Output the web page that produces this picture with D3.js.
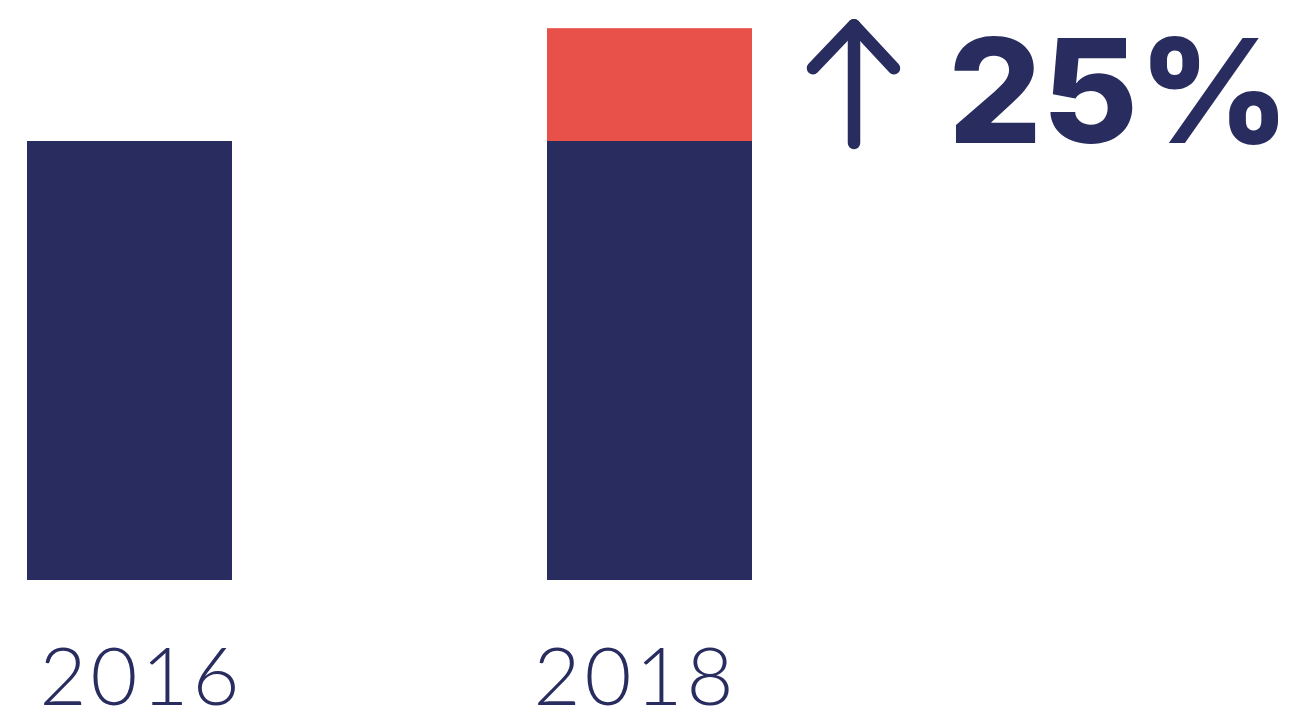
<!DOCTYPE html>
<html>
<head>
<meta charset="utf-8">
<script src="https://cdn.jsdelivr.net/npm/d3@7"></script>
<style>
  html, body { margin: 0; padding: 0; background: #fff; }
  svg { display: block; }
</style>
</head>
<body>
<div id="chart"></div>
<script>
// chart data
var years = ["2016", "2018"];
var baseValues = [100, 100];
var increaseValues = [0, 25.7];
var changeLabel = "25%";

var w = 1302, h = 713;
var navy = "#282c5f", red = "#e8504a";

var svg = d3.select("#chart")
    .append("svg")
    .attr("width", w)
    .attr("height", h);

var xScale = d3.scaleBand()
    .domain(years)
    .range([27, 752])
    .paddingInner(0.6058)
    .paddingOuter(0);

var yScale = d3.scaleLinear().domain([0, 100]).range([580, 141]);

var rows = years.map(function(y, i) {
  return {year: y, base: baseValues[i], inc: increaseValues[i]};
});

// base bars
svg.append("g")
    .selectAll("rect")
    .data(rows)
    .enter()
    .append("rect")
    .attr("x", function(d) { return xScale(d.year); })
    .attr("y", function(d) { return yScale(d.base); })
    .attr("width", xScale.bandwidth())
    .attr("height", function(d) { return yScale(0) - yScale(d.base); })
    .attr("fill", navy);

// increase on top
svg.append("g")
    .selectAll("rect")
    .data(rows.filter(function(d) { return d.inc > 0; }))
    .enter()
    .append("rect")
    .attr("x", function(d) { return xScale(d.year); })
    .attr("y", function(d) { return yScale(d.base + d.inc); })
    .attr("width", xScale.bandwidth())
    .attr("height", function(d) { return yScale(d.base) - yScale(d.base + d.inc); })
    .attr("fill", red);

// year labels
var labelShift = [10, -16];
svg.append("g")
    .selectAll("text")
    .data(rows)
    .enter()
    .append("text")
    .attr("x", function(d, i) { return xScale(d.year) + xScale.bandwidth() / 2 + labelShift[i]; })
    .attr("y", 705)
    .attr("text-anchor", "middle")
    .attr("textLength", 200)
    .attr("lengthAdjust", "spacing")
    .style("font-family", "Lato")
    .style("font-weight", 300)
    .style("font-size", "81px")
    .style("fill", navy)
    .text(function(d) { return d.year; });

// change annotation
var last = rows[rows.length - 1];
var topY = yScale(last.base + last.inc);
var ax = xScale(last.year) + xScale.bandwidth() + 102;
var arrow = svg.append("g")
    .attr("fill", "none")
    .attr("stroke", navy)
    .attr("stroke-width", 12.5)
    .attr("stroke-linecap", "round")
    .attr("stroke-linejoin", "round");
arrow.append("line")
    .attr("x1", ax).attr("y1", topY - 3)
    .attr("x2", ax).attr("y2", yScale(last.base) + 2);
arrow.append("polyline")
    .attr("points", [[ax - 41, topY + 40], [ax, topY - 3], [ax + 40, topY + 40]].join(" "));

svg.append("text")
    .attr("x", ax + 94)
    .attr("y", yScale(last.base) + 2)
    .attr("textLength", 342)
    .attr("lengthAdjust", "spacingAndGlyphs")
    .style("font-family", "Inter")
    .style("font-weight", 800)
    .style("font-size", "145px")
    .style("fill", navy)
    .text(changeLabel);
</script>
</body>
</html>
